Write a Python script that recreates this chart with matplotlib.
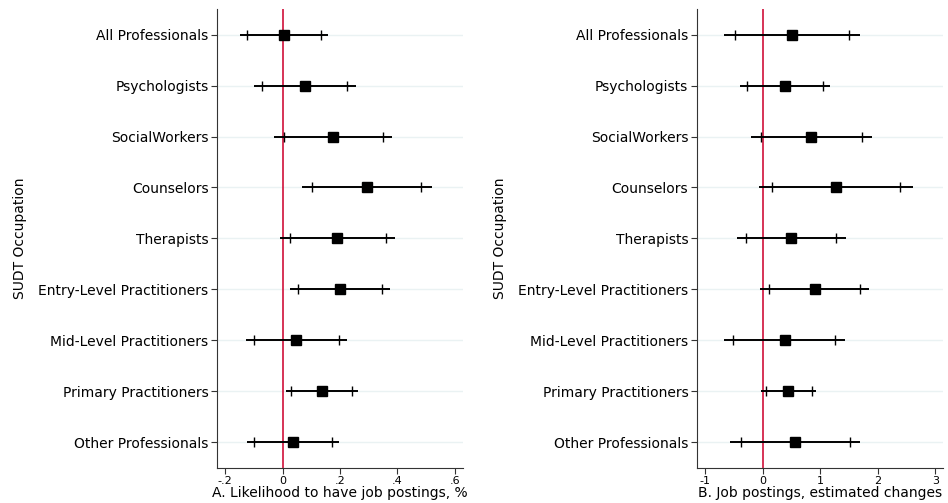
import numpy as np
import matplotlib
matplotlib.use("Agg")
import matplotlib.pyplot as plt

# Occupations (top to bottom)
occupations = ["All Professionals", "Psychologists", "SocialWorkers", "Counselors",
               "Therapists", "Entry-Level Practitioners", "Mid-Level Practitioners",
               "Primary Practitioners", "Other Professionals"]

# Panel A: likelihood to have job postings
a_coef = [0.003, 0.077, 0.176, 0.293, 0.191, 0.200, 0.048, 0.136, 0.036]
a_lo95 = [-0.150, -0.101, -0.029, 0.066, -0.010, 0.024, -0.129, 0.010, -0.126]
a_hi95 = [0.157, 0.255, 0.383, 0.520, 0.393, 0.375, 0.224, 0.262, 0.198]
a_lo90 = [-0.124, -0.073, 0.004, 0.104, 0.024, 0.052, -0.101, 0.028, -0.101]
a_hi90 = [0.132, 0.225, 0.349, 0.482, 0.361, 0.347, 0.196, 0.242, 0.173]

# Panel B: job postings, estimated changes
b_coef = [0.51, 0.38, 0.84, 1.27, 0.49, 0.90, 0.38, 0.44, 0.56]
b_lo95 = [-0.68, -0.40, -0.21, -0.06, -0.45, -0.04, -0.67, -0.03, -0.57]
b_hi95 = [1.70, 1.17, 1.90, 2.61, 1.44, 1.85, 1.43, 0.92, 1.70]
b_lo90 = [-0.49, -0.27, -0.035, 0.16, -0.30, 0.10, -0.51, 0.05, -0.38]
b_hi90 = [1.50, 1.05, 1.72, 2.39, 1.28, 1.70, 1.25, 0.86, 1.51]

a_ticks = [-0.2, 0, 0.2, 0.4, 0.6]
a_ticklabels = ["-.2", "0", ".2", ".4", ".6"]
b_ticks = [-1, 0, 1, 2, 3]
b_ticklabels = ["-1", "0", "1", "2", "3"]

plt.rcParams['font.family'] = 'DejaVu Sans'
plt.rcParams['font.size'] = 10

fig = plt.figure(figsize=(9.48, 5.03), dpi=100)
ax_a = fig.add_axes([0.2286, 0.0696, 0.2601, 0.9125])
ax_b = fig.add_axes([0.7349, 0.0696, 0.2601, 0.9125])

ypos = np.arange(1, len(occupations) + 1)


def coefplot(ax, coef, lo95, hi95, lo90, hi90, xlim, ticks, ticklabels, xlabel):
    for y in ypos:
        ax.axhline(y, color='#eaf2f3', lw=1, zorder=0)
    ax.axvline(0, color='#d0103a', lw=1.2, zorder=1)
    ax.hlines(ypos, lo95, hi95, color='black', lw=1.4, zorder=2)
    ax.plot(lo90, ypos, ls='none', marker='|', ms=7, mew=1.0, color='black', zorder=3)
    ax.plot(hi90, ypos, ls='none', marker='|', ms=7, mew=1.0, color='black', zorder=3)
    ax.plot(coef, ypos, ls='none', marker='s', ms=6.5, color='black', zorder=4)
    ax.set_xlim(*xlim)
    ax.set_ylim(9.5, 0.5)
    ax.set_yticks(ypos)
    ax.set_yticklabels(occupations)
    ax.set_xticks(ticks)
    ax.set_xticklabels(ticklabels)
    ax.set_xlabel(xlabel, fontsize=10, labelpad=0)
    ax.set_ylabel("SUDT Occupation", fontsize=10)
    for s in ['top', 'right']:
        ax.spines[s].set_visible(False)
    ax.spines['left'].set_color('#333333')
    ax.spines['bottom'].set_color('#333333')
    ax.tick_params(axis='both', length=4, color='#333333')
    ax.tick_params(axis='x', labelsize=8, pad=1.5)
    ax.tick_params(axis='y', pad=2)


coefplot(ax_a, a_coef, a_lo95, a_hi95, a_lo90, a_hi90, (-0.23, 0.63),
         a_ticks, a_ticklabels, "A. Likelihood to have job postings, %")
coefplot(ax_b, b_coef, b_lo95, b_hi95, b_lo90, b_hi90, (-1.15, 3.14),
         b_ticks, b_ticklabels, "B. Job postings, estimated changes")

ax_a.yaxis.set_label_coords(-0.77, 0.5)
ax_b.yaxis.set_label_coords(-0.77, 0.5)

fig.savefig("out.png", dpi=100)
